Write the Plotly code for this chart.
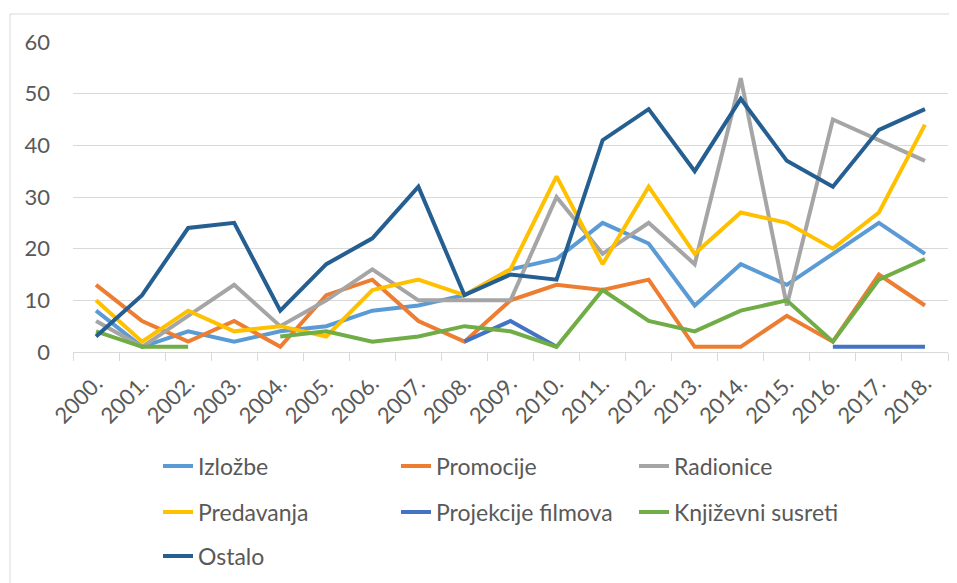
import plotly.graph_objects as go

years = ["2000.", "2001.", "2002.", "2003.", "2004.", "2005.", "2006.", "2007.", "2008.", "2009.",
         "2010.", "2011.", "2012.", "2013.", "2014.", "2015.", "2016.", "2017.", "2018."]

izlozbe = [8, 1, 4, 2, 4, 5, 8, 9, 11, 16, 18, 25, 21, 9, 17, 13, 19, 25, 19]
promocije = [13, 6, 2, 6, 1, 11, 14, 6, 2, 10, 13, 12, 14, 1, 1, 7, 2, 15, 9]
radionice = [6, 1, 7, 13, 5, 10, 16, 10, 10, 10, 30, 19, 25, 17, 53, 9, 45, 41, 37]
predavanja = [10, 2, 8, 4, 5, 3, 12, 14, 11, 16, 34, 17, 32, 19, 27, 25, 20, 27, 44]
projekcije = [None, None, None, None, None, None, None, None, 2, 6, 1,
              None, None, None, None, None, 1, 1, 1]
knjizevni = [4, 1, 1, None, 3, 4, 2, 3, 5, 4, 1, 12, 6, 4, 8, 10, 2, 14, 18]
ostalo = [3, 11, 24, 25, 8, 17, 22, 32, 11, 15, 14, 41, 47, 35, 49, 37, 32, 43, 47]

series = [
    ("Izložbe", izlozbe, "#5B9BD5", "legend"),
    ("Promocije", promocije, "#ED7D31", "legend"),
    ("Radionice", radionice, "#A5A5A5", "legend"),
    ("Predavanja", predavanja, "#FFC000", "legend2"),
    ("Projekcije filmova", projekcije, "#4472C4", "legend2"),
    ("Književni susreti", knjizevni, "#70AD47", "legend2"),
    ("Ostalo", ostalo, "#255E91", "legend3"),
]

FONT = "Lato"
TXT = "#595959"

fig = go.Figure()
for name, vals, color, lg in series:
    fig.add_trace(go.Scatter(
        x=years, y=vals, name=name, mode="lines",
        line=dict(color=color, width=4),
        connectgaps=False, legend=lg,
    ))

OFF = 8  # page body margin
W, H = 957 - OFF, 583 - OFF
L, T = 73 - OFF, 42 - OFF
R = W - (948 - OFF)
B = H - (352 - OFF)
pw = W - L - R
ph = H - T - B

def px2x(px):
    return (px - OFF - L) / pw

def py2y(py):
    return (H - B - (py - OFF)) / ph

legend_common = dict(
    orientation="h", font=dict(family=FONT, size=23, color=TXT),
    entrywidth=238 / pw, entrywidthmode="fraction", xanchor="left", yanchor="middle",
    bgcolor="rgba(0,0,0,0)", itemwidth=30, borderwidth=0,
)

fig.update_layout(
    width=W, height=H,
    margin=dict(l=L, r=R, t=T, b=B, autoexpand=False),
    paper_bgcolor="white", plot_bgcolor="white",
    font=dict(family=FONT, color=TXT),
    showlegend=True,
    legend=dict(x=px2x(158), y=py2y(466), **legend_common),
    legend2=dict(x=px2x(158), y=py2y(512), **legend_common),
    legend3=dict(x=px2x(158), y=py2y(556), **legend_common),
    xaxis=dict(
        type="category", showgrid=False, showline=True, linecolor="#D9D9D9", linewidth=1,
        ticks="outside", tickson="boundaries", ticklen=8, tickcolor="#D9D9D9",
        tickangle=-45, tickfont=dict(family=FONT, size=22, color=TXT),
        ticklabelstandoff=9, range=[-0.5, 18.5],
    ),
    yaxis=dict(
        range=[0, 60], dtick=10, showgrid=True, gridcolor="#D9D9D9", gridwidth=1,
        zeroline=False, showline=False, ticks="",
        tickfont=dict(family=FONT, size=22, color=TXT), ticklabelstandoff=22,
    ),
    shapes=[dict(
        type="rect", xref="paper", yref="paper",
        x0=px2x(10), y0=py2y(700), x1=px2x(1100), y1=py2y(14),
        line=dict(color="#D9D9D9", width=1), fillcolor="rgba(0,0,0,0)", layer="below",
    )],
)

fig.write_html("out.html")
